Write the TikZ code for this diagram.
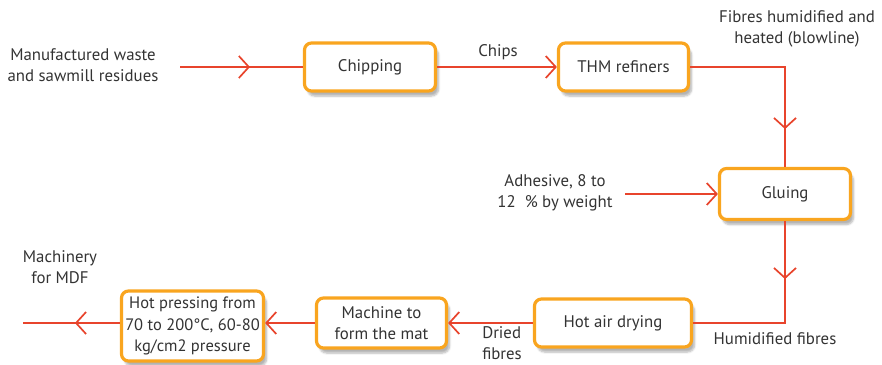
\documentclass[tikz,border=0pt]{standalone}
\usepackage{fontspec}
\setmainfont{PT Sans}
\usetikzlibrary{arrows.meta,decorations.markings,shadows.blur}
\definecolor{boxorange}{HTML}{F9A51F}
\definecolor{flowred}{HTML}{E8442C}
\definecolor{txtgray}{HTML}{333333}
\begin{document}
\begin{tikzpicture}[x=1pt,y=-1pt,
  font=\fontsize{16.8}{20.5}\selectfont,
  stepbox/.style={draw=boxorange, line width=3.2pt, rounded corners=7pt, fill=white,
    align=center, inner sep=0pt, text=txtgray,
    blur shadow={shadow xshift=3pt, shadow yshift=-5pt, shadow opacity=30, shadow blur steps=6}},
  lbl/.style={align=center, inner sep=0pt, text=txtgray},
  barb/.tip={Straight Barb[length=10pt,width=22pt,line width=1.7pt]},
  flow/.style={draw=flowred, line width=1.9pt},
  midarr/.style={postaction={decorate, decoration={markings,
    mark=at position #1 with {\arrow[flowred]{barb}}}}}]
\path[use as bounding box] (0,0) rectangle (882,364);

% boxes
\node[stepbox, minimum width=131pt, minimum height=48pt] (chip) at (370,67) {Chipping};
\node[stepbox, minimum width=130pt, minimum height=48pt] (thm) at (623.5,67) {THM refiners};
\node[stepbox, minimum width=131pt, minimum height=51pt] (glu) at (785,194) {Gluing};
\node[stepbox, minimum width=157pt, minimum height=48pt] (dry) at (613,323) {Hot air drying};
\node[stepbox, minimum width=130pt, minimum height=50pt] (mat) at (381.5,323) {Machine to\\form the mat};
\node[stepbox, minimum width=142pt, minimum height=70pt,
  font=\fontsize{16.5}{21.5}\selectfont] (press) at (192.5,326) {Hot pressing from\\70 to 200°C, 60-80\\kg/cm2 pressure};

% labels
\node[lbl] (lwaste) at (83,65) {Manufactured waste\\and sawmill residues};
\node[lbl] (lchips) at (498,52) {Chips};
\node[lbl] (lblow) at (797,29) {Fibres humidified and\\heated (blowline)};
\node[lbl] (ladh) at (555,193) {Adhesive, 8 to\\12~~\% by weight};
\node[lbl] (lhum) at (775,339) {Humidified fibres};
\node[lbl, align=left] (ldried) at (502,343) {Dried\\fibres};
\node[lbl] (lmach) at (60,267) {Machinery\\for MDF};

% connectors
\coordinate (in1) at (180,67);
\coordinate (adh) at (625,194);
\coordinate (out) at (23,323);
\path[flow, midarr=70pt] (in1) -- (chip.west);
\path[flow, -{barb}] (chip.east) -- (thm.west);
\path[flow, midarr=157pt] (thm.east) -| (glu.north);
\path[flow, -{barb}] (adh) -- (glu.west);
\path[flow, midarr=58pt] (glu.south) |- (dry.east);
\path[flow, -{barb}] (dry.west) -- (mat.east);
\path[flow, -{barb}] (mat.west) -- (press.east |- mat.west);
\path[flow, midarr=45pt] (press.west |- mat.west) -- (out);
\end{tikzpicture}
\end{document}
